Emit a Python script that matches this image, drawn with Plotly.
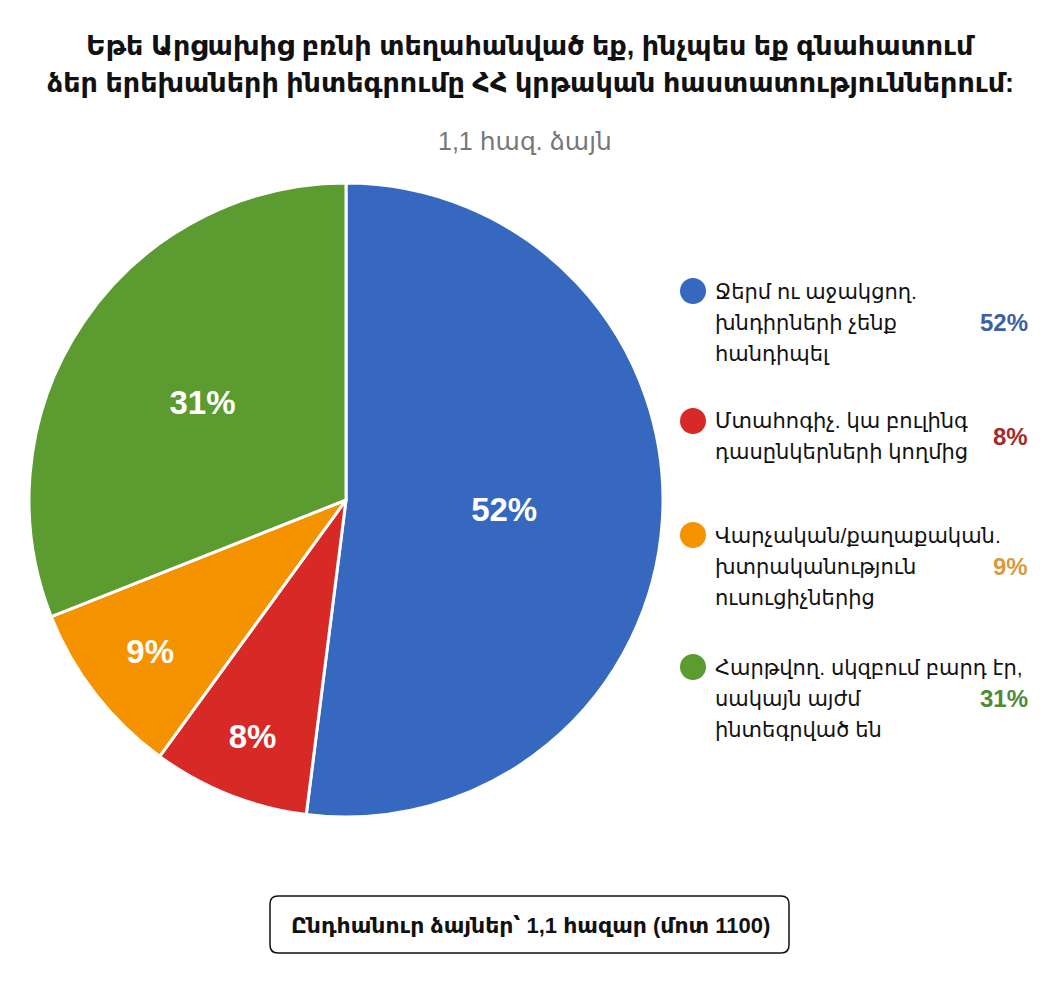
import plotly.graph_objects as go

W, H = 1044, 992   # page has an 8px body margin
OFF = 8

title_lines = ["Եթե Արցախից բռնի տեղահանված եք, ինչպես եք գնահատում",
               "ձեր երեխաների ինտեգրումը ՀՀ կրթական հաստատություններում:"]
subtitle = "1,1 հազ. ձայն"
labels = [["Ջերմ ու աջակցող.", "խնդիրների չենք", "հանդիպել"],
          ["Մտահոգիչ. կա բուլինգ", "դասընկերների կողմից"],
          ["Վարչական/քաղաքական.", "խտրականություն", "ուսուցիչներից"],
          ["Հարթվող. սկզբում բարդ էր,", "սակայն այժմ", "ինտեգրված են"]]
values = [52, 8, 9, 31]
slice_colors = ["#3668c0", "#d72a26", "#f59200", "#5b9b30"]
pct_colors = ["#3d5ea8", "#a3292b", "#d99a3e", "#4f8a36"]
footer = "Ընդհանուր ձայներ՝ 1,1 հազար (մոտ 1100)"

FONT = "Arial, 'Liberation Sans', 'DejaVu Sans', sans-serif"

def px(x):
    return (x - OFF) / W

def py(y):
    return 1 - (y - OFF) / H

cx, cy, R = 346, 500, 317

fig = go.Figure(go.Pie(
    labels=[" ".join(l) for l in labels],
    values=values,
    sort=False,
    direction="clockwise",
    rotation=0,
    marker=dict(colors=slice_colors, line=dict(color="white", width=3)),
    texttemplate="%{value}%",
    textposition="inside",
    insidetextorientation="horizontal",
    textfont=dict(family=FONT, size=33, color="white", weight="bold"),
    domain=dict(x=[px(cx - R), px(cx + R)], y=[py(cy + R), py(cy - R)]),
    showlegend=False,
    hoverinfo="skip",
))

ann = []
shapes = []
for i, t in enumerate(title_lines):
    ann.append(dict(text=t, x=px(530), y=py(46 + 37 * i), xref="paper", yref="paper",
                    xanchor="center", yanchor="middle", showarrow=False,
                    font=dict(family=FONT, size=27, color="#111", weight="bold")))
ann.append(dict(text=subtitle, x=px(525), y=py(141), xref="paper", yref="paper",
                xanchor="center", yanchor="middle", showarrow=False,
                font=dict(family=FONT, size=25, color="#777")))

leg_top = [291, 421, 535, 667]
line_h = 31
for i, (lab, v) in enumerate(zip(labels, values)):
    n = len(lab)
    top = leg_top[i]
    shapes.append(dict(type="circle", xref="paper", yref="paper",
                       x0=px(680), x1=px(706), y0=py(top + 13), y1=py(top - 13),
                       fillcolor=slice_colors[i], line=dict(width=0)))
    for j, line in enumerate(lab):
        ann.append(dict(text=line, x=px(713), y=py(top + j * line_h), xref="paper", yref="paper",
                        xanchor="left", yanchor="middle", showarrow=False,
                        font=dict(family=FONT, size=21, color="#111")))
    mid = top + (n - 1) * line_h / 2
    ann.append(dict(text=f"{v}%", x=px(1030), y=py(mid), xref="paper", yref="paper",
                    xanchor="right", yanchor="middle", showarrow=False,
                    font=dict(family=FONT, size=24, color=pct_colors[i], weight="bold")))

# footer rounded box
x0, x1, y0, y1, r = 270, 789, 896, 953, 8
path = (f"M {px(x0+r)},{py(y0)} L {px(x1-r)},{py(y0)} Q {px(x1)},{py(y0)} {px(x1)},{py(y0+r)} "
        f"L {px(x1)},{py(y1-r)} Q {px(x1)},{py(y1)} {px(x1-r)},{py(y1)} "
        f"L {px(x0+r)},{py(y1)} Q {px(x0)},{py(y1)} {px(x0)},{py(y1-r)} "
        f"L {px(x0)},{py(y0+r)} Q {px(x0)},{py(y0)} {px(x0+r)},{py(y0)} Z")
shapes.append(dict(type="path", xref="paper", yref="paper", path=path,
                   line=dict(color="#111", width=1.5), fillcolor="white"))
ann.append(dict(text=footer, x=px(530), y=py(925), xref="paper", yref="paper",
                xanchor="center", yanchor="middle", showarrow=False,
                font=dict(family=FONT, size=22, color="#111", weight="bold")))

fig.update_layout(width=W, height=H, margin=dict(l=0, r=0, t=0, b=0),
                  paper_bgcolor="white", plot_bgcolor="white",
                  annotations=ann, shapes=shapes)
fig.write_html("out.html")
